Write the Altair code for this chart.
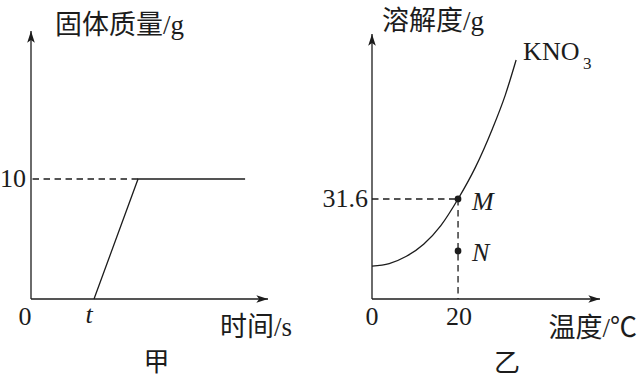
import altair as alt
import pandas as pd

INK = "#1c1c1c"
SERIF = "Liberation Serif, Noto Sans CJK SC"
LW = 1.3
DASH = [6.5, 4.5]

# ---- 甲: solid mass against time ----
time_max = 12.0          # end of time axis (arrow tip)
mass_max = 22.33         # end of mass axis (arrow tip)
t_start = 3.19           # time t, when solid starts to appear
t_full = 5.42            # solid reaches 10 g
t_end = 10.84
mass_full = 10
mass_time = [t_start, t_full, t_end]
mass_vals = [0, mass_full, mass_full]

# ---- 乙: KNO3 solubility curve ----
temp_max = 53.0
sol_max = 83.7
temps = [0, 4, 8, 12, 16, 20, 24, 28, 31, 33.5]
solub = [10.4, 11.2, 13.5, 17.3, 23.2, 31.6, 41.5, 53.8, 64.5, 75.5]
temp_M = 20
sol_M = 31.6
sol_N = 15.2

ARROW_UP = "M0,0L-0.62,1.9L0,1.45L0.62,1.9Z"
ARROW_RIGHT = "M0,0L-1.9,-0.62L-1.45,0L-1.9,0.62Z"


def one(**kw):
    return pd.DataFrame([kw])


def panel(xs, ys, axis_x_end, axis_y_end):
    X = lambda f="x": alt.X(f"{f}:Q", scale=xs, axis=None)
    Y = lambda f="y": alt.Y(f"{f}:Q", scale=ys, axis=None)
    axes = pd.DataFrame({
        "x": [0, 0], "x2": [axis_x_end, 0],
        "y": [0, 0], "y2": [0, axis_y_end],
    })
    axis_rules = alt.Chart(axes).mark_rule(color=INK, strokeWidth=LW).encode(
        x=X(), x2="x2:Q", y=Y(), y2="y2:Q")
    up = alt.Chart(one(x=0, y=axis_y_end)).mark_point(
        shape=ARROW_UP, filled=True, size=150, color=INK, opacity=1, strokeWidth=0
    ).encode(x=X(), y=Y())
    right = alt.Chart(one(x=axis_x_end, y=0)).mark_point(
        shape=ARROW_RIGHT, filled=True, size=150, color=INK, opacity=1, strokeWidth=0
    ).encode(x=X(), y=Y())
    return X, Y, [axis_rules, up, right]


def text(df, X, Y, txt, size=26, align="center", dx=0, dy=0, italic=False):
    return alt.Chart(df).mark_text(
        text=txt, font=SERIF, fontSize=size, color=INK, align=align,
        baseline="middle", dx=dx, dy=dy,
        fontStyle="italic" if italic else "normal",
    ).encode(x=X(), y=Y())


# ---------- 甲 ----------
xs1 = alt.Scale(domain=[0, time_max], nice=False, zero=False)
ys1 = alt.Scale(domain=[0, 22.5], nice=False, zero=False)
X1, Y1, base1 = panel(xs1, ys1, time_max, mass_max)

mass_line = alt.Chart(pd.DataFrame({"x": mass_time, "y": mass_vals})).mark_line(
    color=INK, strokeWidth=LW).encode(x=X1(), y=Y1())
mass_dash = alt.Chart(one(x=t_full, x2=0, y=mass_full)).mark_rule(
    color=INK, strokeWidth=LW, strokeDash=DASH).encode(x=X1(), x2="x2:Q", y=Y1())

left = alt.layer(
    *base1, mass_dash, mass_line,
    text(one(x=0, y=mass_full), X1, Y1, str(mass_full), align="right", dx=-5),
    text(one(x=0, y=0), X1, Y1, "0", dx=-6, dy=18),
    text(one(x=t_start, y=0), X1, Y1, "t", dx=-5, dy=16, italic=True),
    text(one(x=0, y=mass_max), X1, Y1, "固体质量/g", size=27, align="left", dx=24, dy=-5),
    text(one(x=time_max, y=0), X1, Y1, "时间/s", size=27, align="right", dx=24, dy=29),
    text(one(x=time_max / 2, y=0), X1, Y1, "甲", size=26, dx=7, dy=64),
).properties(width=237, height=270)

# ---------- 乙 ----------
xs2 = alt.Scale(domain=[0, temp_max], nice=False, zero=False)
ys2 = alt.Scale(domain=[0, 85.3], nice=False, zero=False)
X2, Y2, base2 = panel(xs2, ys2, temp_max, sol_max)

curve = alt.Chart(pd.DataFrame({"x": temps, "y": solub})).mark_line(
    color=INK, strokeWidth=LW, interpolate="monotone").encode(x=X2(), y=Y2())
guides = pd.DataFrame({
    "x": [0, temp_M], "x2": [temp_M, temp_M],
    "y": [sol_M, sol_M], "y2": [sol_M, 0],
})
guide_rules = alt.Chart(guides).mark_rule(
    color=INK, strokeWidth=LW, strokeDash=DASH).encode(
    x=X2(), x2="x2:Q", y=Y2(), y2="y2:Q")
dots = alt.Chart(pd.DataFrame({"x": [temp_M, temp_M], "y": [sol_M, sol_N]})).mark_circle(
    color=INK, size=45, opacity=1).encode(x=X2(), y=Y2())

right = alt.layer(
    *base2, guide_rules, curve, dots,
    text(one(x=0, y=sol_M), X2, Y2, str(sol_M), align="right", dx=-4),
    text(one(x=0, y=0), X2, Y2, "0", dx=0, dy=18),
    text(one(x=temp_M, y=0), X2, Y2, str(temp_M), dx=1, dy=18),
    text(one(x=temp_M, y=sol_M), X2, Y2, "M", size=26, align="left", dx=14, dy=3, italic=True),
    text(one(x=temp_M, y=sol_N), X2, Y2, "N", size=26, align="left", dx=14, dy=2, italic=True),
    text(one(x=temps[-1], y=solub[-1]), X2, Y2, "KNO", size=26, align="left", dx=7, dy=-8),
    text(one(x=temps[-1], y=solub[-1]), X2, Y2, "3", size=17, align="left", dx=67, dy=4),
    text(one(x=0, y=sol_max), X2, Y2, "溶解度/g", size=27, align="left", dx=10, dy=-12),
    text(one(x=temp_max, y=0), X2, Y2, "温度/℃", size=27, align="right", dx=37, dy=30),
    text(one(x=temp_max / 2, y=0), X2, Y2, "乙", size=26, dx=21, dy=65),
).properties(width=228, height=270)

chart = alt.hconcat(left, right, spacing=104, bounds="flush").properties(
    padding={"left": 0, "top": 8, "right": 0, "bottom": 0},
    background="white",
).configure_view(stroke=None)

chart.save("out.html", embed_options={"renderer": "svg", "actions": False})
